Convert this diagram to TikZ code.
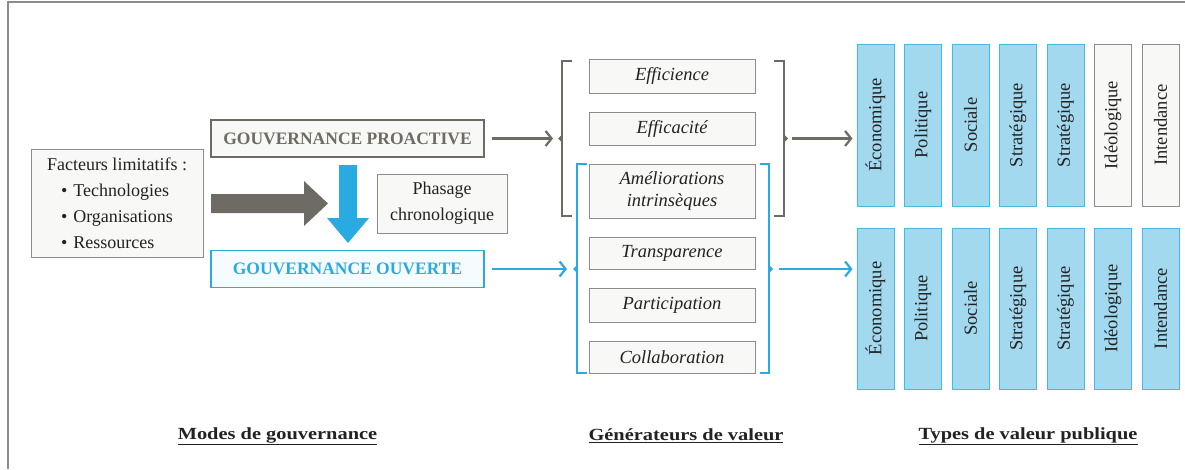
\documentclass[tikz,border=0pt]{standalone}
\usepackage{fontspec}
\setmainfont{Liberation Serif}
\usepackage{graphicx}
\usetikzlibrary{arrows.meta, positioning, calc}

\definecolor{gouvgray}{HTML}{6E6B65}
\definecolor{boxgray}{HTML}{8C8C8C}
\definecolor{gouvblue}{HTML}{29ABE2}
\definecolor{colblue}{HTML}{A2D9EF}
\definecolor{paper}{HTML}{F8F8F6}
\definecolor{ink}{HTML}{222222}

\tikzset{
  every node/.style={font=\fontsize{18}{22}\selectfont, text=ink},
  plainbox/.style={draw=boxgray, fill=paper, line width=1pt, inner sep=0pt},
  genbox/.style={plainbox, minimum width=166pt, font=\fontsize{18.5}{22}\selectfont\itshape, align=center},
  modebox/.style={line width=1.5pt, minimum width=273pt, minimum height=37pt, inner sep=0pt,
    font=\fontsize{17.5}{20}\selectfont\bfseries},
  bluecol/.style={draw=gouvblue!85, fill=colblue, line width=1pt, rotate=90, minimum width=162pt,
    minimum height=37pt, inner sep=0pt, font=\fontsize{18.5}{22}\selectfont},
  graycol/.style={bluecol, draw=boxgray, fill=paper},
  grayarrow/.style={draw=gouvgray, line width=2.2pt, -{Straight Barb[length=6pt,width=15pt]}},
  bluearrow/.style={grayarrow, draw=gouvblue},
  bracket/.style={line width=2pt},
  coltitle/.style={font=\fontsize{17}{20}\selectfont\bfseries}
}

\begin{document}
\begin{tikzpicture}[x=1pt, y=-1pt]
  \useasboundingbox (0,0) rectangle (1185,469);
  \draw[boxgray, line width=2pt] (8,469) -- (8,2) -- (1185,2);

  % modes de gouvernance
  \node[plainbox, minimum width=172pt, minimum height=108pt, align=left,
    font=\fontsize{18}{26}\selectfont] (facteurs) at (117,203)
    {Facteurs limitatifs :\\\hspace*{14pt}\textbullet\hspace{6pt}Technologies\\
     \hspace*{14pt}\textbullet\hspace{6pt}Organisations\\\hspace*{14pt}\textbullet\hspace{6pt}Ressources};
  \node[modebox, draw=gouvgray, fill=paper, text=gouvgray] (proactive) at (347.5,138.5) {GOUVERNANCE PROACTIVE};
  \node[modebox, draw=gouvblue, fill=gouvblue!4, text=gouvblue] (ouverte) at (347.5,269) {GOUVERNANCE OUVERTE};
  \node[plainbox, minimum width=130pt, minimum height=59pt, align=center,
    font=\fontsize{18}{26}\selectfont] (phasage) at (442,203.5) {Phasage\\chronologique};

  \fill[gouvgray] (211,194) -- (304,194) -- (304,181) -- (328,203.5) -- (304,226) -- (304,213) -- (211,213) -- cycle;
  \fill[gouvblue] (339,165) -- (357,165) -- (357,218) -- (369,218) -- (348,243) -- (327,218) -- (339,218) -- cycle;

  % generateurs de valeur
  \node[genbox, minimum height=34pt] (efficience) at (672,76) {Efficience};
  \node[genbox, minimum height=33pt, below=18pt of efficience] (efficacite) {Efficacité};
  \node[genbox, minimum height=54pt, below=18pt of efficacite] (ameliorations) {Améliorations\\intrinsèques};
  \node[genbox, minimum height=32pt, below=18pt of ameliorations] (transparence) {Transparence};
  \node[genbox, minimum height=34pt, below=18pt of transparence] (participation) {Participation};
  \node[genbox, minimum height=32pt, below=18pt of participation] (collaboration) {Collaboration};

  \draw[bracket, gouvgray] (572,61) -- (562,61) -- (562,216) -- (572,216);
  \draw[bracket, gouvgray] (774,61) -- (784,61) -- (784,216) -- (774,216);
  \draw[bracket, gouvblue] (587,164) -- (577,164) -- (577,373) -- (587,373);
  \draw[bracket, gouvblue] (760,164) -- (769,164) -- (769,373) -- (760,373);
  \coordinate (gl) at (562,138.5);
  \coordinate (gr) at (784,138.5);
  \coordinate (bl) at (577,269);
  \coordinate (br) at (769,269);
  \fill[gouvgray] (gl) ++(0,-4) -- ++(-4,4) -- ++(4,4) -- cycle;
  \fill[gouvgray] (gr) ++(0,-4) -- ++(4,4) -- ++(-4,4) -- cycle;
  \fill[gouvblue] (bl) ++(0,-4) -- ++(-4,4) -- ++(4,4) -- cycle;
  \fill[gouvblue] (br) ++(0,-4) -- ++(4,4) -- ++(-4,4) -- cycle;

  % types de valeur publique
  \foreach \name/\kind [count=\i] in {Économique/bluecol, Politique/bluecol, Sociale/bluecol,
      Stratégique/bluecol, Stratégique/bluecol, Idéologique/graycol, Intendance/graycol}
    \node[\kind] (top\i) at ({875.5+(\i-1)*47.5},125) {\name};
  \foreach \name [count=\i] in {Économique, Politique, Sociale, Stratégique, Stratégique, Idéologique, Intendance}
    \node[bluecol, minimum width=161pt] (bot\i) at ({875.5+(\i-1)*47.5},308.5) {\name};

  \draw[grayarrow, shorten <=7pt, shorten >=9pt] (proactive.east) -- (gl);
  \draw[grayarrow, shorten <=8pt, shorten >=4pt] (gr) -- (top1.north |- gr);
  \draw[bluearrow, shorten <=7pt, shorten >=10pt] (ouverte.east) -- (bl);
  \draw[bluearrow, shorten <=10pt, shorten >=4pt] (br) -- (bot1.north |- br);

  \node[coltitle] (modes) at (277.5,436) {\scalebox{1.2}[1]{\underline{Modes de gouvernance}}};
  \node[coltitle] (generateurs) at (686,436) {\scalebox{1.2}[1]{\underline{Générateurs de valeur}}};
  \node[coltitle] (types) at (1028,436) {\scalebox{1.2}[1]{\underline{Types de valeur publique}}};
\end{tikzpicture}
\end{document}
